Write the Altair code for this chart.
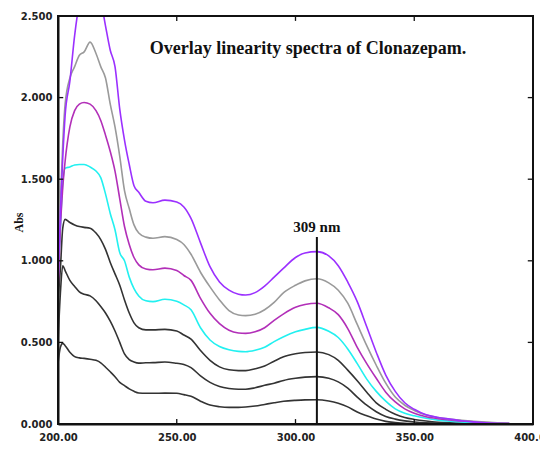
import altair as alt
import pandas as pd

wavelength = [200, 201, 202, 203, 205, 207, 209, 211, 213.5, 216, 218, 220, 222, 224, 226, 228, 230, 232,
              234, 237, 240, 245, 250, 253, 256, 260, 264, 268, 272, 276, 279, 283, 287, 291, 295, 300,
              304, 309, 314, 318, 322, 326, 330, 334, 338, 342, 346, 350, 355, 360, 365, 370, 375, 380,
              385, 390]

purple = [0.85, 1.30, 1.63, 1.89, 2.10, 2.38, 2.58, 2.68, 2.74, 2.70, 2.60, 2.44, 2.29, 2.19, 1.93, 1.74,
          1.59, 1.46, 1.42, 1.365, 1.356, 1.372, 1.36, 1.33, 1.26, 1.11, 0.964, 0.87, 0.82, 0.795, 0.79,
          0.805, 0.845, 0.90, 0.955, 1.02, 1.048, 1.056, 1.03, 0.97, 0.87, 0.75, 0.596, 0.44, 0.30, 0.20,
          0.13, 0.09, 0.056, 0.04, 0.03, 0.02, 0.013, 0.008, 0.005, 0.003]
gray = [0.90, 1.35, 1.72, 1.96, 2.12, 2.19, 2.26, 2.28, 2.34, 2.27, 2.19, 2.12, 1.96, 1.82, 1.64, 1.43,
        1.32, 1.22, 1.17, 1.145, 1.138, 1.148, 1.13, 1.10, 1.04, 0.93, 0.84, 0.76, 0.695, 0.668, 0.664,
        0.672, 0.70, 0.745, 0.805, 0.85, 0.877, 0.89, 0.865, 0.82, 0.74, 0.61, 0.48, 0.36, 0.25, 0.165,
        0.115, 0.083, 0.055, 0.04, 0.03, 0.023, 0.017, 0.012, 0.008, 0.005]
magenta = [0.82, 1.20, 1.45, 1.61, 1.82, 1.92, 1.96, 1.97, 1.96, 1.92, 1.86, 1.77, 1.67, 1.55, 1.38, 1.21,
           1.10, 1.02, 0.975, 0.95, 0.945, 0.955, 0.94, 0.91, 0.88, 0.77, 0.678, 0.615, 0.575, 0.558, 0.555,
           0.565, 0.59, 0.635, 0.675, 0.715, 0.732, 0.74, 0.712, 0.67, 0.585, 0.47, 0.37, 0.28, 0.195, 0.135,
           0.093, 0.066, 0.045, 0.033, 0.025, 0.018, 0.013, 0.009, 0.006, 0.004]
cyan = [0.90, 1.20, 1.48, 1.567, 1.575, 1.587, 1.59, 1.59, 1.575, 1.55, 1.51, 1.41, 1.29, 1.19, 1.05, 1.00,
        0.90, 0.83, 0.785, 0.755, 0.75, 0.764, 0.752, 0.73, 0.70, 0.59, 0.515, 0.475, 0.455, 0.445, 0.443,
        0.452, 0.47, 0.505, 0.535, 0.565, 0.58, 0.592, 0.568, 0.53, 0.46, 0.37, 0.275, 0.20, 0.14, 0.093,
        0.066, 0.05, 0.035, 0.024, 0.017, 0.012, 0.009, 0.006, 0.004, 0.002]
black5 = [0.76, 0.95, 1.20, 1.254, 1.235, 1.22, 1.21, 1.205, 1.20, 1.17, 1.13, 1.07, 0.99, 0.92, 0.85, 0.76,
          0.68, 0.62, 0.59, 0.577, 0.577, 0.58, 0.57, 0.545, 0.52, 0.45, 0.39, 0.35, 0.332, 0.327, 0.327,
          0.338, 0.355, 0.385, 0.412, 0.43, 0.438, 0.441, 0.425, 0.39, 0.33, 0.265, 0.195, 0.13, 0.09, 0.06,
          0.04, 0.028, 0.018, 0.011, 0.007, 0.005, 0.003, 0.002, 0.001, 0.001]
black6 = [0.50, 0.80, 0.97, 0.94, 0.88, 0.843, 0.81, 0.795, 0.785, 0.755, 0.72, 0.68, 0.63, 0.57, 0.50, 0.43,
          0.395, 0.38, 0.373, 0.375, 0.376, 0.38, 0.372, 0.365, 0.345, 0.295, 0.255, 0.23, 0.218, 0.213,
          0.213, 0.222, 0.237, 0.25, 0.267, 0.28, 0.287, 0.29, 0.28, 0.258, 0.22, 0.165, 0.115, 0.075, 0.046,
          0.03, 0.019, 0.012, 0.007, 0.005, 0.003, 0.002, 0.001, 0.001, 0.0, 0.0]
black7 = [0.37, 0.47, 0.494, 0.48, 0.44, 0.413, 0.405, 0.402, 0.397, 0.39, 0.375, 0.348, 0.32, 0.29, 0.255,
          0.235, 0.215, 0.20, 0.19, 0.188, 0.188, 0.189, 0.188, 0.18, 0.17, 0.14, 0.116, 0.106, 0.102, 0.102,
          0.104, 0.11, 0.12, 0.13, 0.139, 0.145, 0.148, 0.149, 0.141, 0.127, 0.105, 0.073, 0.05, 0.03, 0.016,
          0.009, 0.004, 0.002, 0.001, 0.0, 0.0, 0.0, 0.0, 0.0, 0.0, 0.0]

series_names = ["c1", "c2", "c3", "c4", "c5", "c6", "c7"]
series_values = [black7, black6, black5, cyan, magenta, gray, purple]
series_colors = ["#333333", "#333333", "#333333", "#22F0F0", "#B22FB8", "#9A9A9A", "#9B30FF"]

x_ticks = [200, 250, 300, 350, 400]
y_ticks = [0.0, 0.5, 1.0, 1.5, 2.0, 2.5]
inner_x_ticks = [250, 300, 350]
inner_y_ticks = [0.5, 1.0, 1.5, 2.0]
x_range = [200, 400]
y_range = [0.0, 2.5]

marker_nm = [309]
marker_top = [1.146]
marker_label = ["309 nm"]
title_text = ["Overlay linearity spectra of Clonazepam."]
title_pos_nm = [305.3]
title_pos_abs = [2.298]

rows = []
for name, vals in zip(series_names, series_values):
    for w, v in zip(wavelength, vals):
        rows.append({"nm": w, "abs": v, "series": name})
df = pd.DataFrame(rows)

xs = alt.Scale(domain=x_range, nice=False, zero=False)
ys = alt.Scale(domain=y_range, nice=False)

x_axis = alt.Axis(
    values=x_ticks, format=".2f", title="nm", ticks=False, domain=True, domainColor="#111111",
    domainWidth=2, grid=False,
    labelFont="DejaVu Sans", labelFontWeight="bold", labelFontSize=10, labelColor="#222222",
    labelPadding=8, labelFlush=False, titleFont="Liberation Serif", titleFontWeight="bold",
    titleFontSize=12, titleColor="#111111", titlePadding=1)
y_axis = alt.Axis(
    values=y_ticks, format=".3f", title="Abs", ticks=False, domain=True, domainColor="#111111",
    domainWidth=2, grid=False,
    labelFont="DejaVu Sans", labelFontWeight="bold", labelFontSize=10, labelColor="#222222",
    labelPadding=6, labelFlush=False, titleFont="Liberation Serif", titleFontWeight="bold",
    titleFontSize=12, titleColor="#111111", titleX=-40, titleY=206, titleAngle=270,
    titleAlign="center", titleBaseline="middle")

lines = alt.Chart(df).mark_line(strokeWidth=1.6, interpolate="monotone", clip=True).encode(
    x=alt.X("nm:Q", scale=xs, axis=x_axis),
    y=alt.Y("abs:Q", scale=ys, axis=y_axis),
    color=alt.Color("series:N", scale=alt.Scale(domain=series_names, range=series_colors), legend=None),
)

# frame: horizontal rules at the top/bottom, vertical rules at the left/right edges
h_edges = pd.DataFrame({"xa": [x_range[0], x_range[0]], "xb": [x_range[1], x_range[1]],
                        "yv": [y_range[0], y_range[1]]})
v_edges = pd.DataFrame({"xv": [x_range[0], x_range[1]], "ya": [y_range[0], y_range[0]],
                        "yb": [y_range[1], y_range[1]]})
frame_h = alt.Chart(h_edges).mark_rule(color="#111111", strokeWidth=2).encode(
    x=alt.X("xa:Q", scale=xs, axis=x_axis), x2="xb:Q", y=alt.Y("yv:Q", scale=ys, axis=y_axis))
frame_v = alt.Chart(v_edges).mark_rule(color="#111111", strokeWidth=2).encode(
    x=alt.X("xv:Q", scale=xs, axis=x_axis), y=alt.Y("ya:Q", scale=ys, axis=y_axis), y2="yb:Q")

tx = pd.DataFrame({"nm": inner_x_ticks})
tx["y0"] = 0.0
tx["y1"] = 0.03
tx["t0"] = 2.5
tx["t1"] = 2.47
ty = pd.DataFrame({"abs": inner_y_ticks})
ty["x0"] = 200.0
ty["x1"] = 202.2
ty["r0"] = 400.0
ty["r1"] = 397.8

bottom_ticks = alt.Chart(tx).mark_rule(color="#111111", strokeWidth=1.3).encode(
    x=alt.X("nm:Q", scale=xs, axis=x_axis), y=alt.Y("y0:Q", scale=ys, axis=y_axis), y2="y1:Q")
top_ticks = alt.Chart(tx).mark_rule(color="#111111", strokeWidth=1.3).encode(
    x=alt.X("nm:Q", scale=xs, axis=x_axis), y=alt.Y("t0:Q", scale=ys, axis=y_axis), y2="t1:Q")
left_ticks = alt.Chart(ty).mark_rule(color="#111111", strokeWidth=1.3).encode(
    y=alt.Y("abs:Q", scale=ys, axis=y_axis), x=alt.X("x0:Q", scale=xs, axis=x_axis), x2="x1:Q")
right_ticks = alt.Chart(ty).mark_rule(color="#111111", strokeWidth=1.3).encode(
    y=alt.Y("abs:Q", scale=ys, axis=y_axis), x=alt.X("r0:Q", scale=xs, axis=x_axis), x2="r1:Q")

mk = pd.DataFrame({"nm": marker_nm, "top": marker_top, "label": marker_label})
mk["base"] = 0.0
marker = alt.Chart(mk).mark_rule(color="#111111", strokeWidth=2).encode(
    x=alt.X("nm:Q", scale=xs, axis=x_axis), y=alt.Y("base:Q", scale=ys, axis=y_axis), y2="top:Q")
marker_text = alt.Chart(mk).mark_text(
    font="Liberation Serif", fontWeight="bold", fontSize=15, color="#111111",
    baseline="bottom", align="center", dy=-2).encode(
    x=alt.X("nm:Q", scale=xs, axis=x_axis), y=alt.Y("top:Q", scale=ys, axis=y_axis), text="label:N")

tt = pd.DataFrame({"nm": title_pos_nm, "abs": title_pos_abs, "label": title_text})
title = alt.Chart(tt).mark_text(
    font="Liberation Serif", fontWeight="bold", fontSize=18, color="#111111",
    baseline="middle", align="center").encode(
    x=alt.X("nm:Q", scale=xs, axis=x_axis), y=alt.Y("abs:Q", scale=ys, axis=y_axis), text="label:N")

chart = alt.layer(lines, bottom_ticks, top_ticks, left_ticks, right_ticks, marker, marker_text,
                  title, frame_h, frame_v).properties(
    width=475, height=408,
    autosize=alt.AutoSizeParams(type="none"),
    padding={"left": 50, "top": 8, "right": 7, "bottom": 20},
    background="white",
).configure_view(stroke="#111111", strokeWidth=2)

chart.save("out.html", embed_options={"renderer": "svg", "actions": False})
